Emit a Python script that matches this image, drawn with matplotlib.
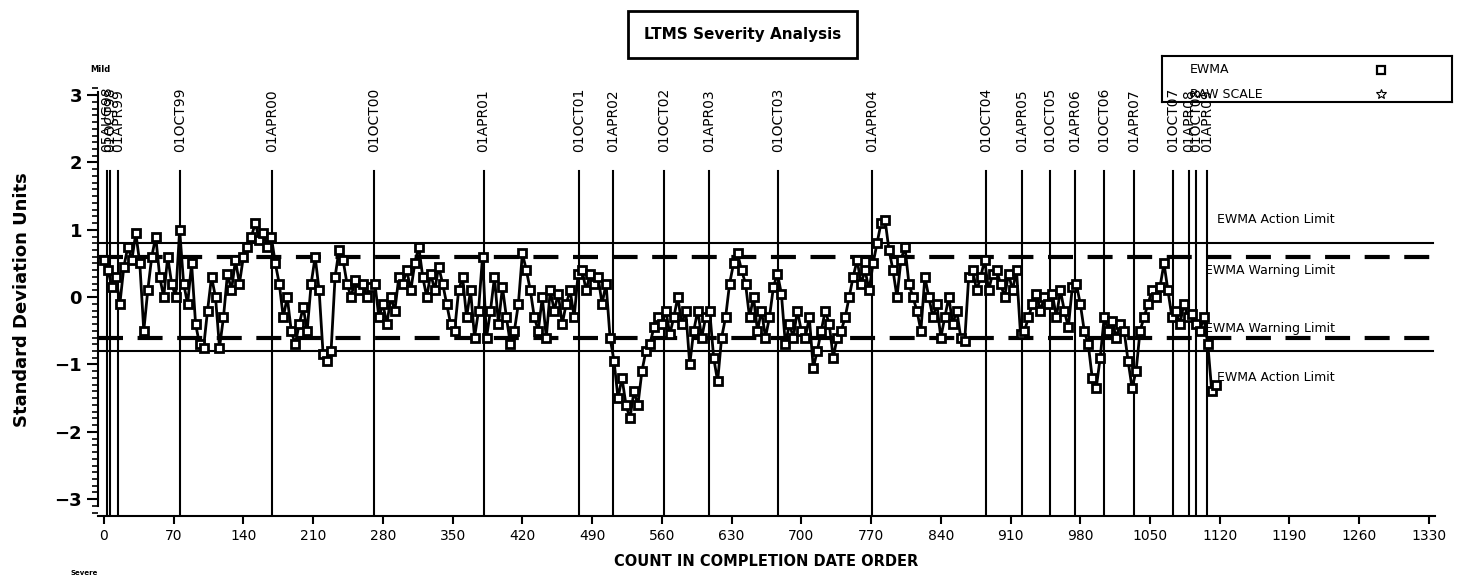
import numpy as np
import matplotlib.pyplot as plt
from matplotlib.ticker import MultipleLocator

# === Data ===
counts = np.arange(0, 1120, 4)
ewma = [
    0.55, 0.40, 0.15, 0.30, -0.10, 0.45, 0.75, 0.55, 0.95, 0.50,
    -0.50, 0.10, 0.60, 0.90, 0.30, 0.00, 0.60, 0.20, 0.00, 1.00,
    0.20, -0.10, 0.50, -0.40, -0.70, -0.75, -0.20, 0.30, 0.00, -0.75,
    -0.30, 0.35, 0.10, 0.55, 0.20, 0.60, 0.75, 0.90, 1.10, 0.85,
    0.95, 0.75, 0.90, 0.50, 0.20, -0.30, 0.00, -0.50, -0.70, -0.40,
    -0.15, -0.50, 0.20, 0.60, 0.10, -0.85, -0.95, -0.80, 0.30, 0.70,
    0.55, 0.20, 0.00, 0.25, 0.10, 0.20, 0.00, 0.15, 0.20, -0.30,
    -0.10, -0.40, 0.00, -0.20, 0.30, 0.20, 0.40, 0.10, 0.50, 0.75,
    0.30, 0.00, 0.35, 0.10, 0.45, 0.20, -0.10, -0.40, -0.50, 0.10,
    0.30, -0.30, 0.10, -0.60, -0.20, 0.60, -0.60, -0.20, 0.30, -0.40,
    0.15, -0.30, -0.70, -0.50, -0.10, 0.65, 0.40, 0.10, -0.30, -0.50,
    0.00, -0.60, 0.10, -0.20, 0.05, -0.40, -0.10, 0.10, -0.30, 0.35,
    0.40, 0.10, 0.35, 0.20, 0.30, -0.10, 0.20, -0.60, -0.95, -1.50,
    -1.20, -1.60, -1.80, -1.40, -1.60, -1.10, -0.80, -0.70, -0.45, -0.30,
    -0.40, -0.20, -0.55, -0.30, 0.00, -0.40, -0.20, -1.00, -0.50, -0.20,
    -0.60, -0.30, -0.20, -0.90, -1.25, -0.60, -0.30, 0.20, 0.50, 0.65,
    0.40, 0.20, -0.30, 0.00, -0.50, -0.20, -0.60, -0.30, 0.15, 0.35,
    0.05, -0.70, -0.40, -0.60, -0.20, -0.50, -0.60, -0.30, -1.05, -0.80,
    -0.50, -0.20, -0.40, -0.90, -0.60, -0.50, -0.30, 0.00, 0.30, 0.55,
    0.20, 0.40, 0.10, 0.50, 0.80, 1.10, 1.15, 0.70, 0.40, 0.00,
    0.55, 0.75, 0.20, 0.00, -0.20, -0.50, 0.30, 0.00, -0.30, -0.10,
    -0.60, -0.30, 0.00, -0.40, -0.20, -0.60, -0.65, 0.30, 0.40, 0.10,
    0.30, 0.55, 0.10, 0.35, 0.40, 0.20, 0.00, 0.35, 0.10, 0.40,
    -0.55, -0.50, -0.30, -0.10, 0.05, -0.20, 0.00, -0.10, 0.05, -0.30,
    0.10, -0.20, -0.45, 0.15, 0.20, -0.10, -0.50, -0.70, -1.20, -1.35,
    -0.90, -0.30, -0.50, -0.35, -0.60, -0.40, -0.50, -0.95, -1.35, -1.10,
    -0.50, -0.30, -0.10, 0.10, 0.00, 0.15, 0.50, 0.10, -0.30, -0.20,
    -0.40, -0.10, -0.30, -0.25, -0.40, -0.50, -0.30, -0.70, -1.40, -1.30,
]

date_labels = ['05AUG98', '01OCT98', '01APR99', '01OCT99', '01APR00', '01OCT00',
               '01APR01', '01OCT01', '01APR02', '01OCT02', '01APR03', '01OCT03',
               '01APR04', '01OCT04', '01APR05', '01OCT05', '01APR06', '01OCT06',
               '01APR07', '01OCT07', '01APR08', '01OCT08', '01APR09']
date_counts = [3, 6, 14, 76, 169, 271, 381, 477, 511, 562, 607, 677,
               771, 885, 922, 950, 975, 1004, 1034, 1073, 1089, 1096, 1107]

action_limit = 0.8
warning_limit = 0.6
x_ticks = np.arange(0, 1331, 70)

# === Figure ===
fig = plt.figure(figsize=(14.62, 5.77), dpi=100)
ax = fig.add_axes([0.067, 0.1057, 0.9145, 0.747])

ax.plot(counts, ewma, color='black', lw=2, marker='s', markersize=6,
        markerfacecolor='white', markeredgecolor='black', markeredgewidth=2, zorder=3)

# limit lines
for s in (1, -1):
    ax.axhline(s * action_limit, color='black', lw=1.5, xmax=0.9985)
    ax.axhline(s * warning_limit, color='black', lw=3, ls=(0, (6, 3.5)), xmax=0.9985)

ax.text(1117, 1.15, 'EWMA Action Limit', fontsize=9, va='center', ha='left')
ax.text(1105, 0.40, 'EWMA Warning Limit', fontsize=9, va='center', ha='left')
ax.text(1105, -0.46, 'EWMA Warning Limit', fontsize=9, va='center', ha='left')
ax.text(1117, -1.20, 'EWMA Action Limit', fontsize=9, va='center', ha='left')

# date reference lines
for lab, c in zip(date_labels, date_counts):
    ax.plot([c, c], [-3.25, 1.87], color='black', lw=1.5, zorder=2)
    ax.text(c, 2.15, lab, rotation=90, ha='center', va='bottom', fontsize=10)

ax.set_xlim(-6, 1336)
ax.set_ylim(-3.25, 3.15)
ax.set_xticks(x_ticks)
ax.set_yticks([-3, -2, -1, 0, 1, 2, 3])
ax.yaxis.set_minor_locator(MultipleLocator(0.1))
ax.tick_params(axis='y', which='major', length=8, width=1.5, labelsize=13)
ax.tick_params(axis='y', which='minor', length=4, width=1.2)
ax.tick_params(axis='x', which='major', length=6, width=1.5, labelsize=10)
for t in ax.get_yticklabels():
    t.set_fontweight('bold')
for side in ('top', 'right'):
    ax.spines[side].set_visible(False)
ax.spines['left'].set_linewidth(1.5)
ax.spines['bottom'].set_linewidth(1.5)
ax.spines['left'].set_bounds(-3.1, 3.05)

ax.set_xlabel('COUNT IN COMPLETION DATE ORDER', fontsize=10.5, fontweight='bold', labelpad=8)
fig.text(0.015, 0.48, 'Standard Deviation Units', rotation=90, fontsize=13,
         fontweight='bold', va='center', ha='center')
fig.text(0.0615, 0.875, 'Mild', fontsize=6, fontweight='bold', ha='left')
fig.text(0.048, 0.003, 'Severe', fontsize=5, fontweight='bold', ha='left')

# title box
fig.text(0.508, 0.94, 'LTMS Severity Analysis', fontsize=11, fontweight='bold',
         ha='center', va='center',
         bbox=dict(boxstyle='square,pad=1.05', facecolor='white', edgecolor='black', lw=2))

# legend box
lax = fig.add_axes([1162 / 1462, 1 - 102 / 577, 290 / 1462, 46 / 577])
lax.set_xlim(0, 1)
lax.set_ylim(0, 1)
lax.set_xticks([])
lax.set_yticks([])
for sp in lax.spines.values():
    sp.set_linewidth(1.5)
lax.patch.set_alpha(0)
lax.text(0.095, 0.7, 'EWMA', fontsize=9, va='center')
lax.text(0.095, 0.17, 'RAW SCALE', fontsize=9, va='center')
lax.plot([0.755], [0.7], marker='s', markersize=6, markerfacecolor='white',
         markeredgecolor='black', markeredgewidth=1.6)
lax.plot([0.755], [0.17], marker='*', markersize=7, markerfacecolor='white',
         markeredgecolor='black', markeredgewidth=0.8)

fig.savefig('out.png', dpi=100)
